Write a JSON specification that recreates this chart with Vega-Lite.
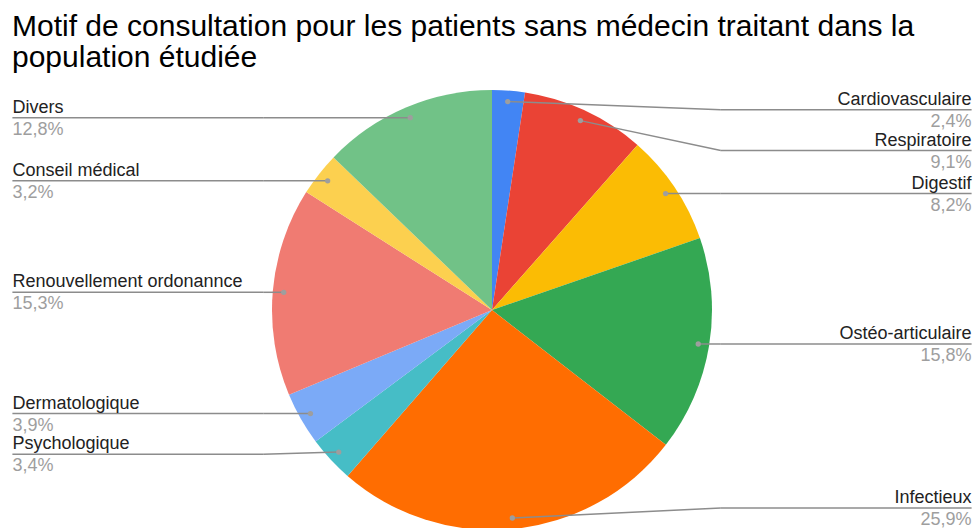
{
  "$schema": "https://vega.github.io/schema/vega-lite/v6.json",
  "width": 968,
  "height": 436,
  "autosize": {"type": "none"},
  "padding": {"left": 8, "top": 92, "right": 2, "bottom": 0},
  "title": {
    "text": ["Motif de consultation pour les patients sans médecin traitant dans la", "population étudiée"],
    "anchor": "start",
    "frame": "group",
    "font": "Liberation Sans",
    "fontSize": 30,
    "fontWeight": "normal",
    "color": "#000000",
    "lineHeight": 31,
    "dx": 4,
    "offset": 17
  },
  "data": {
    "values": [
      {"motif": "Cardiovasculaire", "pct": 2.4},
      {"motif": "Respiratoire", "pct": 9.1},
      {"motif": "Digestif", "pct": 8.2},
      {"motif": "Ostéo-articulaire", "pct": 15.8},
      {"motif": "Infectieux", "pct": 25.9},
      {"motif": "Psychologique", "pct": 3.4},
      {"motif": "Dermatologique", "pct": 3.9},
      {"motif": "Renouvellement ordonannce", "pct": 15.3},
      {"motif": "Conseil médical", "pct": 3.2},
      {"motif": "Divers", "pct": 12.8}
    ]
  },
  "transform": [
    {"window": [{"op": "row_number", "as": "idx"}]},
    {"window": [{"op": "sum", "field": "pct", "as": "cum"}], "sort": [{"field": "idx", "order": "ascending"}], "frame": [null, 0]},
    {"joinaggregate": [{"op": "sum", "field": "pct", "as": "total"}]},
    {"calculate": "2 * PI * (datum.cum - datum.pct / 2) / datum.total", "as": "mid"},
    {"calculate": "0.95 * sin(datum.mid)", "as": "px"},
    {"calculate": "0.95 * cos(datum.mid)", "as": "py"},
    {"calculate": "datum.px >= 0 ? 'right' : 'left'", "as": "side"},
    {"calculate": "datum.side == 'right' ? datum.idx : -datum.idx", "as": "sk"},
    {"window": [{"op": "row_number", "as": "k"}], "groupby": ["side"], "sort": [{"field": "sk", "order": "ascending"}]},
    {"calculate": "min(datum.py, 0.91) + datum.k * 0.185", "as": "e"},
    {"window": [{"op": "min", "field": "e", "as": "emin"}], "groupby": ["side"], "sort": [{"field": "k", "order": "ascending"}], "frame": [null, 0]},
    {"calculate": "max(datum.emin - datum.k * 0.185, -0.9)", "as": "ly"},
    {"calculate": "datum.side == 'right' ? 1.04 : -1.04", "as": "kx"},
    {"calculate": "datum.side == 'right' ? 2.18 : -2.18", "as": "ex"},
    {"calculate": "replace(format(datum.pct, '.1f'), '.', ',') + '%'", "as": "lab"}
  ],
  "layer": [
    {
      "mark": {"type": "arc", "outerRadius": 220, "stroke": null},
      "encoding": {
        "theta": {"field": "pct", "type": "quantitative", "stack": true},
        "order": {"field": "idx", "type": "quantitative", "sort": "ascending"},
        "color": {
          "field": "motif",
          "type": "nominal",
          "legend": null,
          "scale": {
            "domain": ["Cardiovasculaire", "Respiratoire", "Digestif", "Ostéo-articulaire", "Infectieux", "Psychologique", "Dermatologique", "Renouvellement ordonannce", "Conseil médical", "Divers"],
            "range": ["#4285F4", "#EA4335", "#FBBC04", "#34A853", "#FF6D01", "#46BDC6", "#7BAAF7", "#F07B72", "#FCD04F", "#71C287"]
          }
        }
      }
    },
    {
      "mark": {"type": "rule", "color": "#8c8c8c", "strokeWidth": 1.5},
      "encoding": {
        "x": {"field": "px", "type": "quantitative", "axis": null, "scale": {"domain": [-2.2, 2.2], "nice": false, "zero": false}},
        "y": {"field": "py", "type": "quantitative", "axis": null, "scale": {"domain": [-0.99091, 0.99091], "nice": false, "zero": false}},
        "x2": {"field": "kx"},
        "y2": {"field": "ly"}
      }
    },
    {
      "mark": {"type": "rule", "color": "#8c8c8c", "strokeWidth": 1.5},
      "encoding": {
        "x": {"field": "kx", "type": "quantitative", "axis": null, "scale": {"domain": [-2.2, 2.2], "nice": false, "zero": false}},
        "y": {"field": "ly", "type": "quantitative", "axis": null, "scale": {"domain": [-0.99091, 0.99091], "nice": false, "zero": false}},
        "x2": {"field": "ex"}
      }
    },
    {
      "mark": {"type": "point", "filled": true, "color": "#9e9e9e", "size": 28, "opacity": 1},
      "encoding": {
        "x": {"field": "px", "type": "quantitative", "axis": null, "scale": {"domain": [-2.2, 2.2], "nice": false, "zero": false}},
        "y": {"field": "py", "type": "quantitative", "axis": null, "scale": {"domain": [-0.99091, 0.99091], "nice": false, "zero": false}}
      }
    },
    {
      "transform": [{"filter": "datum.side == 'right'"}],
      "mark": {"type": "text", "align": "right", "baseline": "alphabetic", "dy": -5, "font": "Liberation Sans", "fontSize": 18, "color": "#222222"},
      "encoding": {
        "x": {"field": "ex", "type": "quantitative", "axis": null, "scale": {"domain": [-2.2, 2.2], "nice": false, "zero": false}},
        "y": {"field": "ly", "type": "quantitative", "axis": null, "scale": {"domain": [-0.99091, 0.99091], "nice": false, "zero": false}},
        "text": {"field": "motif"}
      }
    },
    {
      "transform": [{"filter": "datum.side == 'right'"}],
      "mark": {"type": "text", "align": "right", "baseline": "alphabetic", "dy": 17, "font": "Liberation Sans", "fontSize": 18, "color": "#9e9e9e"},
      "encoding": {
        "x": {"field": "ex", "type": "quantitative", "axis": null, "scale": {"domain": [-2.2, 2.2], "nice": false, "zero": false}},
        "y": {"field": "ly", "type": "quantitative", "axis": null, "scale": {"domain": [-0.99091, 0.99091], "nice": false, "zero": false}},
        "text": {"field": "lab"}
      }
    },
    {
      "transform": [{"filter": "datum.side == 'left'"}],
      "mark": {"type": "text", "align": "left", "baseline": "alphabetic", "dy": -5, "font": "Liberation Sans", "fontSize": 18, "color": "#222222"},
      "encoding": {
        "x": {"field": "ex", "type": "quantitative", "axis": null, "scale": {"domain": [-2.2, 2.2], "nice": false, "zero": false}},
        "y": {"field": "ly", "type": "quantitative", "axis": null, "scale": {"domain": [-0.99091, 0.99091], "nice": false, "zero": false}},
        "text": {"field": "motif"}
      }
    },
    {
      "transform": [{"filter": "datum.side == 'left'"}],
      "mark": {"type": "text", "align": "left", "baseline": "alphabetic", "dy": 17, "font": "Liberation Sans", "fontSize": 18, "color": "#9e9e9e"},
      "encoding": {
        "x": {"field": "ex", "type": "quantitative", "axis": null, "scale": {"domain": [-2.2, 2.2], "nice": false, "zero": false}},
        "y": {"field": "ly", "type": "quantitative", "axis": null, "scale": {"domain": [-0.99091, 0.99091], "nice": false, "zero": false}},
        "text": {"field": "lab"}
      }
    }
  ],
  "config": {"view": {"stroke": null}, "background": "#ffffff"}
}
